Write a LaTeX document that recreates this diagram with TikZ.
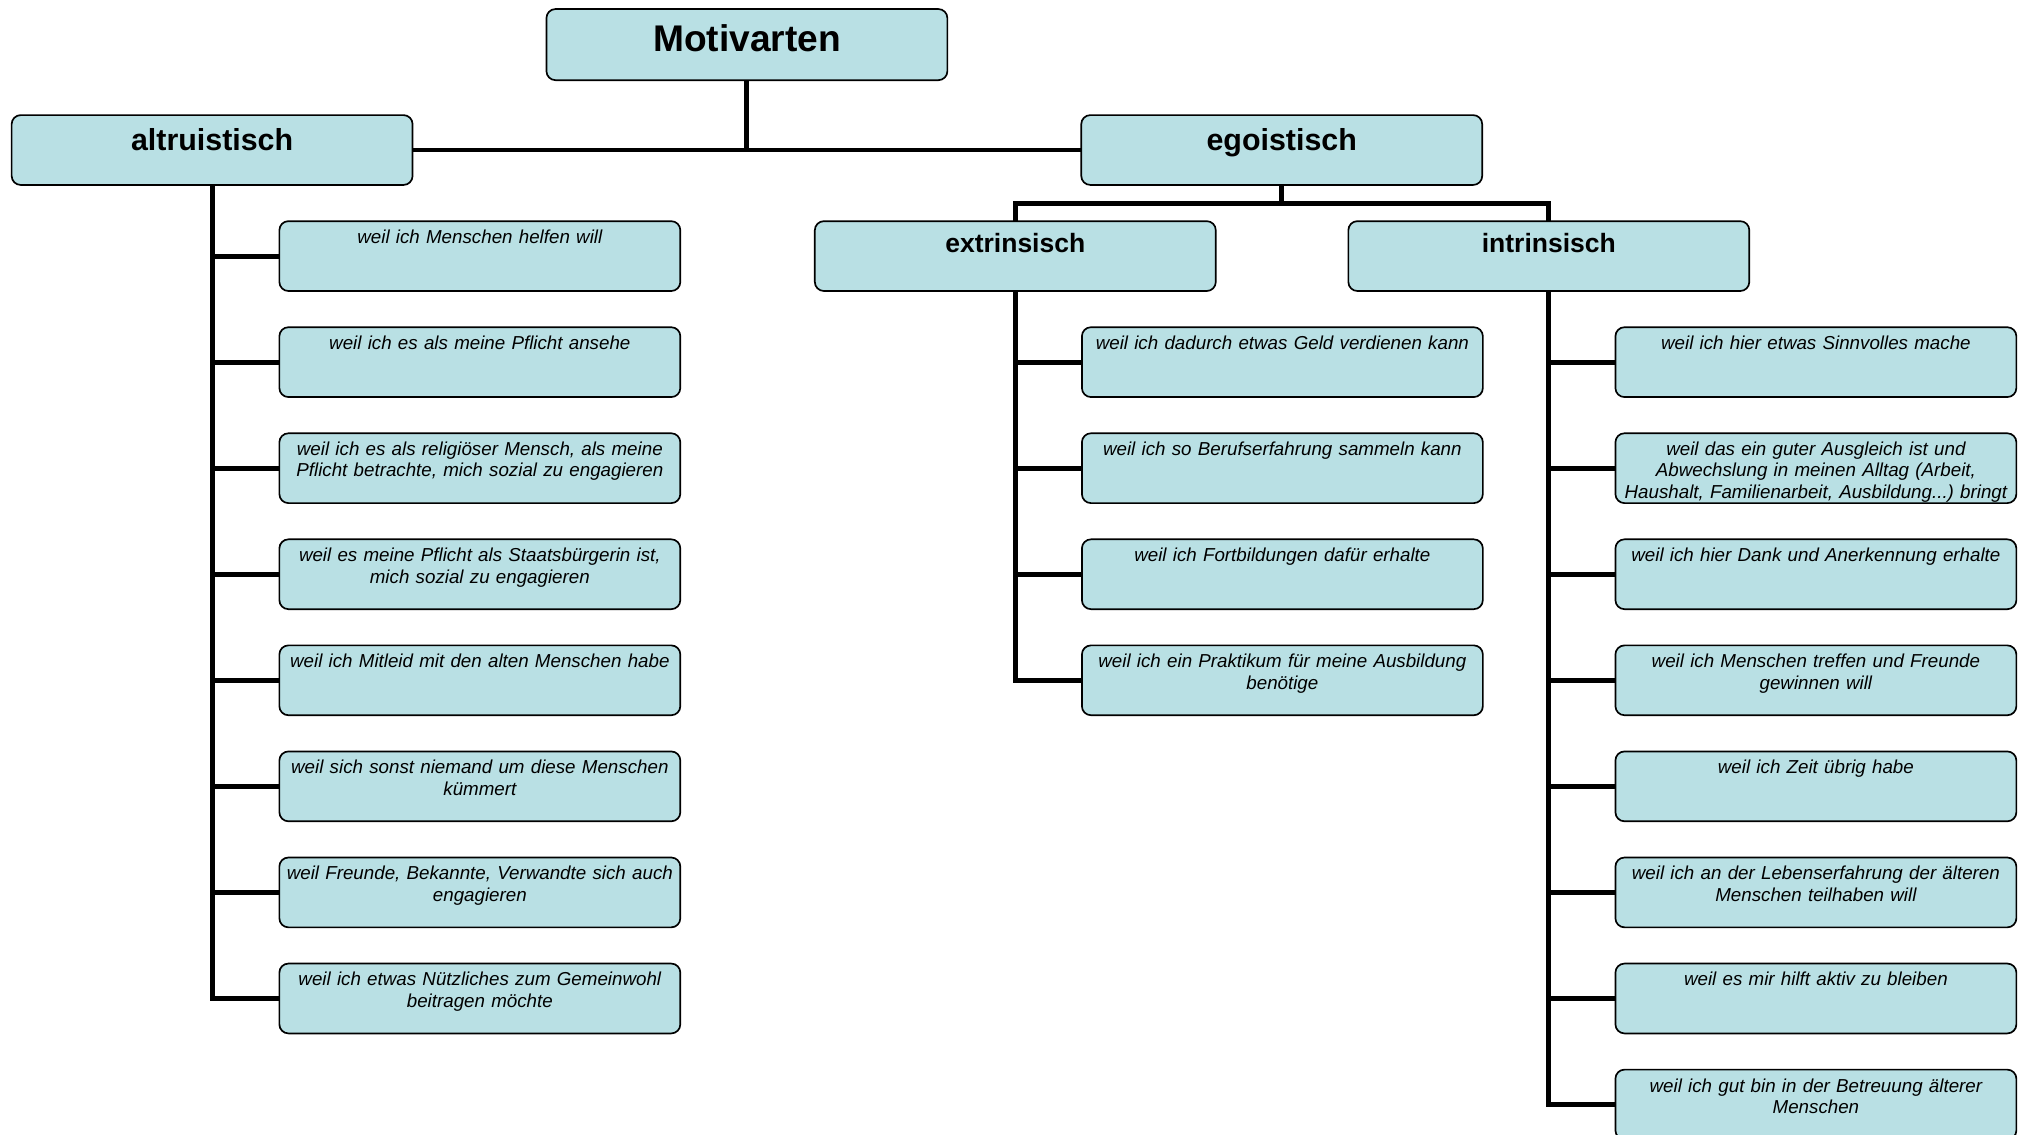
\documentclass[tikz,border=0pt]{standalone}
\usepackage{fontspec}
\setmainfont{Liberation Sans}
\usetikzlibrary{positioning}
\definecolor{motivfill}{RGB}{185,224,228}

\begin{document}
\begin{tikzpicture}[node distance=28pt,
  box/.style={draw, line width=1.3pt, rounded corners=7pt, fill=motivfill,
    minimum width=310pt, inner xsep=3pt, outer sep=0pt, align=center},
  rootbox/.style={box, font=\bfseries\fontsize{28.7}{32}\selectfont,
    inner ysep=8pt, text height=25pt, text depth=14pt},
  mainbox/.style={box, font=\bfseries\fontsize{23.5}{27}\selectfont,
    inner ysep=9pt, text height=18pt, text depth=18pt},
  subbox/.style={box, font=\bfseries\fontsize{20.5}{24}\selectfont,
    inner ysep=8pt, text height=16.2pt, text depth=21.8pt},
  leafbox/.style={box, text width=304pt, font=\itshape\fontsize{14.5}{16.5}\selectfont,
    inner ysep=6pt, text height=11.3pt, text depth=30.7pt},
  conn/.style={line width=3.8pt}]
  \useasboundingbox (0,0) rectangle (1568pt,-877pt);

  \node[rootbox, anchor=north] (motivarten) at (577.5pt,-7pt) {Motivarten};
  \node[mainbox, anchor=north] (altruistisch) at (164pt,-89pt) {altruistisch};
  \node[mainbox, anchor=north] (egoistisch) at (991pt,-89pt) {egoistisch};
  \node[subbox, below=28pt of egoistisch.south, xshift=-206pt] (extrinsisch) {extrinsisch};
  \node[subbox, below=28pt of egoistisch.south, xshift=206.5pt] (intrinsisch) {intrinsisch};

  % altruistische Motive
  \node[leafbox, below right=28pt and 52pt of altruistisch.south] (alt1)
    {weil ich Menschen helfen will};
  \node[leafbox, below=of alt1] (alt2) {weil ich es als meine Pflicht ansehe};
  \node[leafbox, below=of alt2] (alt3)
    {weil ich es als religiöser Mensch, als meine\\Pflicht betrachte, mich sozial zu engagieren};
  \node[leafbox, below=of alt3] (alt4)
    {weil es meine Pflicht als Staatsbürgerin ist,\\mich sozial zu engagieren};
  \node[leafbox, below=of alt4] (alt5) {weil ich Mitleid mit den alten Menschen habe};
  \node[leafbox, below=of alt5] (alt6)
    {weil sich sonst niemand um diese Menschen\\kümmert};
  \node[leafbox, below=of alt6] (alt7)
    {weil Freunde, Bekannte, Verwandte sich auch\\engagieren};
  \node[leafbox, below=of alt7] (alt8)
    {weil ich etwas Nützliches zum Gemeinwohl\\beitragen möchte};

  % extrinsische Motive
  \node[leafbox, below right=28pt and 51.5pt of extrinsisch.south] (ext1)
    {weil ich dadurch etwas Geld verdienen kann};
  \node[leafbox, below=of ext1] (ext2) {weil ich so Berufserfahrung sammeln kann};
  \node[leafbox, below=of ext2] (ext3) {weil ich Fortbildungen dafür erhalte};
  \node[leafbox, below=of ext3] (ext4)
    {weil ich ein Praktikum für meine Ausbildung\\benötige};

  % intrinsische Motive
  \node[leafbox, below right=28pt and 51.5pt of intrinsisch.south] (int1)
    {weil ich hier etwas Sinnvolles mache};
  \node[leafbox, below=of int1] (int2)
    {weil das ein guter Ausgleich ist und\\Abwechslung in meinen Alltag (Arbeit,\\Haushalt, Familienarbeit, Ausbildung...)\ bringt};
  \node[leafbox, below=of int2] (int3) {weil ich hier Dank und Anerkennung erhalte};
  \node[leafbox, below=of int3] (int4)
    {weil ich Menschen treffen und Freunde\\gewinnen will};
  \node[leafbox, below=of int4] (int5) {weil ich Zeit übrig habe};
  \node[leafbox, below=of int5] (int6)
    {weil ich an der Lebenserfahrung der älteren\\Menschen teilhaben will};
  \node[leafbox, below=of int6] (int7) {weil es mir hilft aktiv zu bleiben};
  \node[leafbox, below=of int7] (int8)
    {weil ich gut bin in der Betreuung älterer\\Menschen};

  \draw[conn] (motivarten.south) |- (altruistisch.east);
  \draw[conn] (motivarten.south) |- (egoistisch.west);
  \draw[conn] (egoistisch.south) -- ++(0,-14pt) coordinate (split)
    (extrinsisch.north) |- (split) -| (intrinsisch.north);

  \draw[conn] (altruistisch.south) |- (alt8.west);
  \draw[conn] (alt1.west) -- (alt1.west-|altruistisch.south)
    (alt2.west) -- (alt2.west-|altruistisch.south)
    (alt3.west) -- (alt3.west-|altruistisch.south)
    (alt4.west) -- (alt4.west-|altruistisch.south)
    (alt5.west) -- (alt5.west-|altruistisch.south)
    (alt6.west) -- (alt6.west-|altruistisch.south)
    (alt7.west) -- (alt7.west-|altruistisch.south);

  \draw[conn] (extrinsisch.south) |- (ext4.west);
  \draw[conn] (ext1.west) -- (ext1.west-|extrinsisch.south)
    (ext2.west) -- (ext2.west-|extrinsisch.south)
    (ext3.west) -- (ext3.west-|extrinsisch.south);

  \draw[conn] (intrinsisch.south) |- (int8.west);
  \draw[conn] (int1.west) -- (int1.west-|intrinsisch.south)
    (int2.west) -- (int2.west-|intrinsisch.south)
    (int3.west) -- (int3.west-|intrinsisch.south)
    (int4.west) -- (int4.west-|intrinsisch.south)
    (int5.west) -- (int5.west-|intrinsisch.south)
    (int6.west) -- (int6.west-|intrinsisch.south)
    (int7.west) -- (int7.west-|intrinsisch.south);
\end{tikzpicture}
\end{document}
